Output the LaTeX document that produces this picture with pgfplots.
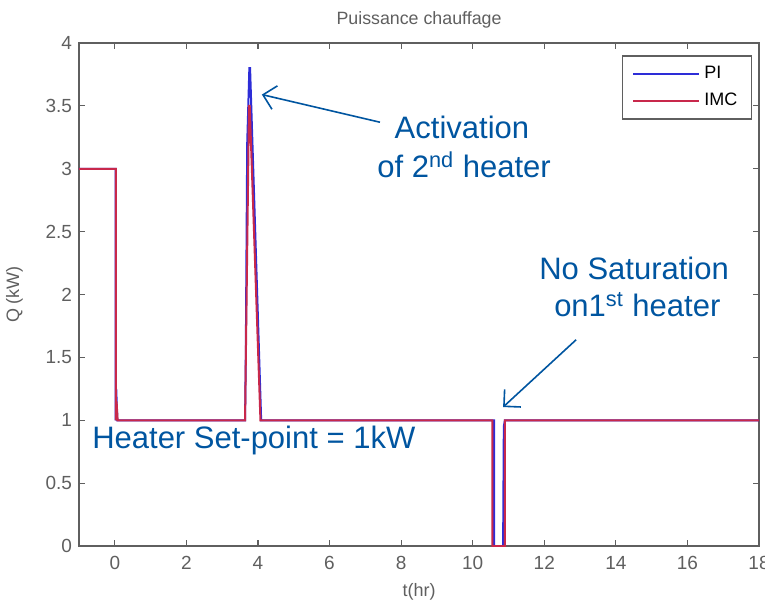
\documentclass[border=0pt]{standalone}
\usepackage{pgfplots}
\pgfplotsset{compat=1.18}
\usetikzlibrary{arrows.meta}
\usepackage{fontspec}
\setmainfont{Liberation Sans}
\definecolor{piblue}{RGB}{45,45,215}
\definecolor{imcred}{RGB}{200,40,75}
\definecolor{annot}{RGB}{0,85,160}
\definecolor{axgray}{RGB}{95,95,95}
\begin{document}
\begin{tikzpicture}
\begin{axis}[
  scale only axis,
  width=340pt, height=251.5pt,
  xmin=-1, xmax=18, ymin=0, ymax=4,
  xtick={0,2,4,6,8,10,12,14,16,18},
  ytick={0,0.5,1,1.5,2,2.5,3,3.5,4},
  yticklabels={0,0.5,1,1.5,2,2.5,3,3.5,4},
  tick align=inside,
  major tick length=3pt,
  axis line style={axgray, line width=0.8pt},
  every tick/.style={axgray, line width=0.6pt},
  tick label style={font=\fontsize{9.5}{11}\selectfont, text=axgray},
  xticklabel style={yshift=-1.5pt},
  /pgf/number format/assume math mode=true,
  title={Puissance chauffage},
  title style={font=\fontsize{8.9}{10}\selectfont, text=axgray, yshift=-2pt},
  xlabel={t(hr)},
  ylabel={Q (kW)},
  label style={font=\fontsize{9}{10}\selectfont, text=axgray},
  xlabel style={yshift=0pt},
  ylabel style={yshift=4.5pt},
  legend cell align=left,
  legend style={at={(rel axis cs:0.99,0.976)}, anchor=north east,
    draw=axgray, line width=0.8pt, font=\fontsize{9}{11}\selectfont,
    inner xsep=5pt, inner ysep=3pt, row sep=2pt},
  legend image code/.code={\draw[#1, line width=1pt] (0pt,0pt) -- (33pt,0pt);},
]
\addplot[piblue, line width=1pt] coordinates {
  (-1,3) (0.02,3) (0.02,1) (0.04,1.25) (0.07,1) (3.64,1) (3.66,1.5)
  (3.70,3.2) (3.76,3.8) (3.78,3.8) (4.09,1) (10.6,1) (10.6,0)
  (10.85,0) (10.87,0.95) (10.9,1) (18,1)
};
\addlegendentry{PI}
\addplot[imcred, line width=1pt] coordinates {
  (-1,3) (0.03,3) (0.03,1) (0.05,1.15) (0.08,1) (3.64,1) (3.75,3.5)
  (3.77,3.5) (4.07,1) (10.55,1) (10.55,0) (10.9,0) (10.9,1) (18,1)
};
\addlegendentry{IMC}
\draw[-{Straight Barb[length=6pt,width=12pt]}, annot, line width=0.8pt] (axis cs:7.41,3.37) -- (axis cs:4.11,3.59);
\draw[-{Straight Barb[length=6pt,width=12pt]}, annot, line width=0.8pt] (axis cs:12.89,1.64) -- (axis cs:10.85,1.105);
\node[annot, font=\fontsize{15.5}{18}\selectfont] at (axis cs:9.70,3.33) {Activation};
\node[annot, font=\fontsize{15.5}{18}\selectfont] at (axis cs:9.76,3.03) {of 2\textsuperscript{nd} heater};
\node[annot, font=\fontsize{15.5}{18}\selectfont] at (axis cs:14.51,2.21) {No Saturation};
\node[annot, font=\fontsize{15.5}{18}\selectfont] at (axis cs:14.60,1.92) {on1\textsuperscript{st} heater};
\node[annot, font=\fontsize{15.5}{18}\selectfont, anchor=west, inner sep=0pt] at (axis cs:-0.64,0.84) {Heater Set-point = 1kW};
\end{axis}
\pgfresetboundingbox
\path[use as bounding box] (-39.5pt,-27.5pt) rectangle (343pt,273pt);
\end{tikzpicture}
\end{document}
